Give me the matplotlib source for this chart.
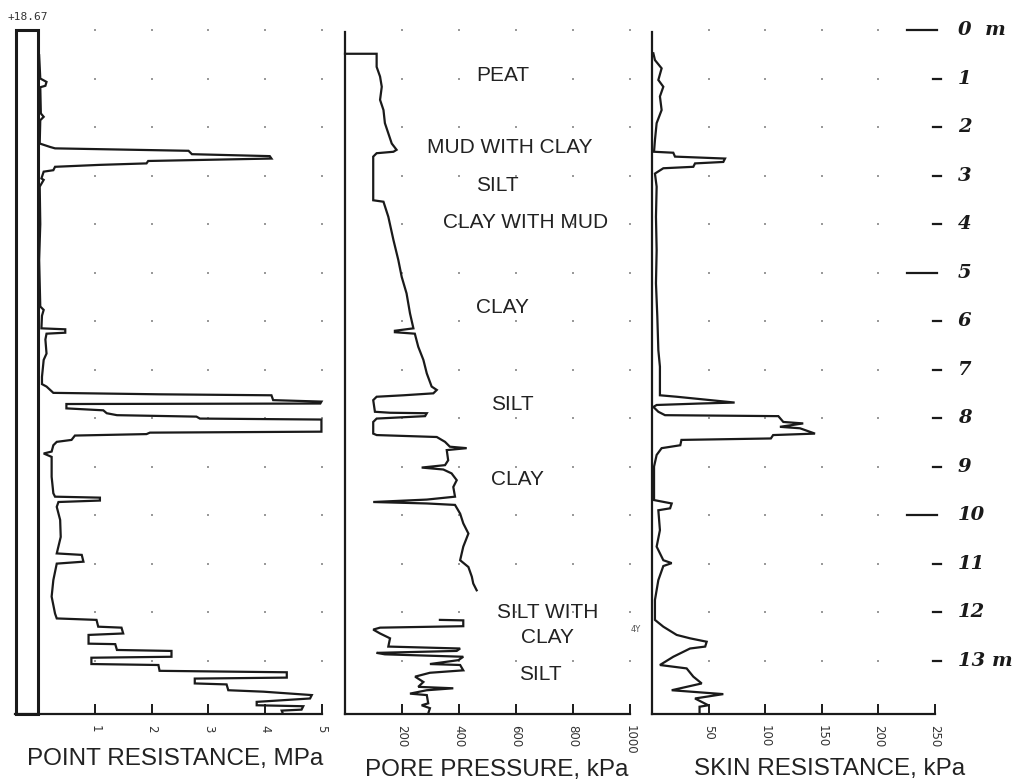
import matplotlib
matplotlib.use("Agg")
import matplotlib.pyplot as plt
from matplotlib.patches import Rectangle

# ---------------- data (depth in m, value) ----------------
qc_depth = [0.52, 1.00, 1.07, 1.15, 1.18, 1.72, 1.79, 1.86, 2.34, 2.41, 2.44, 2.49, 2.56, 2.60, 2.65,
            2.70, 2.75, 2.78, 2.82, 2.89, 2.92, 3.06, 3.09, 3.23, 4.00, 4.74, 5.70, 5.77, 5.89,
            6.15, 6.17, 6.24, 6.26, 6.38, 6.67, 6.80, 7.15, 7.30, 7.35, 7.48, 7.51, 7.53, 7.63,
            7.66, 7.70, 7.71, 7.80, 7.84, 7.90, 7.94, 7.97, 8.01, 8.03, 8.28, 8.30, 8.33, 8.36,
            8.45, 8.49, 8.56, 8.69, 8.73, 8.80, 9.21, 9.55, 9.62, 9.64, 9.70, 9.73, 9.83, 10.10,
            10.45, 10.79, 10.82, 10.96, 11.00, 11.34, 11.68, 12.03, 12.13, 12.16, 12.30, 12.32,
            12.44, 12.47, 12.65, 12.66, 12.78, 12.80, 12.92, 12.94, 13.07, 13.09, 13.21, 13.24,
            13.35, 13.37, 13.47, 13.49, 13.61, 13.64, 13.71, 13.78, 13.85, 13.92, 13.94, 14.01,
            14.03, 14.09]
qc_mpa = [0.02, 0.04, 0.15, 0.13, 0.04, 0.05, 0.10, 0.04, 0.03, 0.21, 0.30, 2.65, 2.71, 4.08, 4.11,
          1.94, 1.91, 1.09, 0.30, 0.27, 0.10, 0.06, 0.10, 0.03, 0.04, 0.02, 0.04, 0.10, 0.07,
          0.06, 0.48, 0.48, 0.15, 0.13, 0.15, 0.10, 0.07, 0.07, 0.15, 0.27, 2.15, 4.11, 4.14,
          4.99, 4.97, 0.50, 0.50, 1.15, 1.21, 1.39, 2.79, 2.85, 4.99, 4.99, 1.97, 1.91, 0.65,
          0.59, 0.33, 0.27, 0.24, 0.10, 0.24, 0.24, 0.27, 0.30, 1.09, 1.09, 0.36, 0.33, 0.39,
          0.40, 0.33, 0.77, 0.80, 0.33, 0.27, 0.24, 0.30, 0.33, 1.03, 1.06, 1.47,
          1.50, 0.89, 0.89, 1.36, 1.39, 2.35, 2.35, 0.94, 0.94, 2.12, 2.14, 4.38,
          4.38, 2.76, 2.76, 3.32, 3.35, 3.97, 4.82, 4.79, 3.85, 3.85, 4.67, 4.64,
          4.29, 4.31]

u_depth_a = [0.49, 0.49, 0.76, 0.96, 1.17, 1.44, 1.65, 1.92, 2.13, 2.34, 2.47, 2.51, 2.54, 2.61,
             3.51, 3.54, 3.85, 4.33, 4.74, 5.09, 5.43, 5.84, 6.15, 6.20, 6.23, 6.26, 6.53, 6.80,
             7.08, 7.35, 7.42, 7.49, 7.53, 7.56, 7.63, 7.87, 7.89, 7.90, 7.96, 8.01, 8.08, 8.32,
             8.35, 8.39, 8.49, 8.59, 8.62, 8.66, 8.87, 8.97, 9.02, 9.06, 9.14, 9.28, 9.42, 9.62,
             9.68, 9.73, 9.76, 9.79, 9.97, 10.17, 10.38, 10.65, 10.93, 11.07, 11.27, 11.41, 11.55]
u_kpa_a = [0, 111, 111, 123, 129, 123, 135, 140, 152, 164, 181, 170, 111, 99,
           99, 135, 152, 170, 187, 199, 216, 228, 240, 175, 175, 245, 257, 275,
           287, 304, 322, 310, 205, 111, 99, 105, 158, 287, 281, 111, 99, 99,
           111, 322, 351, 368, 427, 357, 362, 351, 269, 345, 374, 392, 380, 386,
           287, 99, 287, 386, 404, 415, 433, 415, 404, 433, 445, 450, 462]
u_depth_b = [12.16, 12.17, 12.29, 12.32, 12.36, 12.44, 12.54, 12.71, 12.75, 12.80, 12.84, 12.87,
             12.92, 12.99, 13.07, 13.09, 13.20, 13.25, 13.33, 13.44, 13.54, 13.57, 13.61, 13.68,
             13.71, 13.88, 13.92, 13.98, 14.09]
u_kpa_b = [333, 415, 415, 123, 99, 123, 158, 152, 404, 392, 111, 140,
           415, 398, 298, 404, 415, 298, 246, 275, 257, 380, 287, 228,
           287, 292, 269, 298, 292]

fs_depth = [0.48, 0.62, 0.79, 1.03, 1.17, 1.37, 1.65, 1.92, 2.27, 2.51, 2.53, 2.61, 2.65, 2.72,
            2.75, 2.82, 2.85, 2.96, 3.23, 3.85, 4.54, 5.22, 5.91, 6.60, 6.94, 7.35, 7.53, 7.56,
            7.68, 7.70, 7.73, 7.77, 7.87, 7.94, 7.96, 8.08, 8.11, 8.18, 8.21, 8.32, 8.35, 8.42,
            8.45, 8.56, 8.62, 8.76, 9.00, 9.69, 9.76, 9.86, 9.90, 10.31, 10.65, 10.93, 10.99,
            11.05, 11.34, 11.75, 12.16, 12.30, 12.47, 12.54, 12.61, 12.71, 12.75, 12.92, 13.09,
            13.16, 13.33, 13.47, 13.61, 13.69, 13.78, 13.92, 13.95, 14.09]
fs_kpa = [1.2, 2.6, 8.5, 5.6, 10, 7, 8.5, 4.1, 2.6, 1.8, 18.8, 20.3, 64.5, 63,
          38, 36.5, 10, 2.6, 4.1, 3.5, 4.1, 3.5, 4.7, 5.6, 7, 7, 7, 21.8,
          73, 42, 4.1, 1.2, 5.6, 11.5, 111.6, 116, 133.6, 113, 130.7, 144, 107, 105,
          26, 25, 8.5, 4.1, 1.8, 1.8, 17.4, 16, 5.6, 7, 4.1, 10, 17.4,
          10, 5.6, 2.6, 2.6, 10, 21.8, 33.6, 48.3, 47, 33.6, 18.8, 7,
          30.6, 36.5, 43.9, 17.4, 63, 38, 49.7, 42, 42]

qc_ticks = [1, 2, 3, 4, 5]
u_ticks = [200, 400, 600, 800, 1000]
fs_ticks = [50, 100, 150, 200, 250]
fs_dot_cols = [50, 100, 150, 200]
depth_rows = list(range(0, 14))
depth_labels = ["0  m", "1", "2", "3", "4", "5", "6", "7", "8", "9", "10", "11", "12", "13 m"]

layer_names = ["PEAT", "MUD WITH CLAY", "SILT", "CLAY WITH MUD", "CLAY", "SILT", "CLAY",
               "SILT WITH", "CLAY", "SILT"]
layer_depth = [0.93, 2.43, 3.20, 3.96, 5.73, 7.73, 9.26, 12.0, 12.52, 13.28]
layer_kpa = [554, 579, 533, 632, 554, 586, 604, 712, 712, 684]

# ---------------- figure ----------------
W, H = 1014, 783
fig = plt.figure(figsize=(W / 100, H / 100), dpi=100)
fig.patch.set_facecolor("white")

def rect(x0, x1):
    bottom = 1 - 714 / H
    return [x0 / W, bottom, (x1 - x0) / W, 684 / H]

ax1 = fig.add_axes(rect(15, 322))
ax2 = fig.add_axes(rect(345, 630))
ax3 = fig.add_axes(rect(652, 935))

DMAX = 14.1
ink = "#1a1a1a"
for ax in (ax1, ax2, ax3):
    ax.set_ylim(DMAX, 0)
    ax.set_yticks([])
    for s in ("top", "right"):
        ax.spines[s].set_visible(False)
    ax.spines["bottom"].set_linewidth(1.6)
    ax.spines["left"].set_linewidth(1.6)
    ax.spines["bottom"].set_color(ink)
    ax.spines["left"].set_color(ink)
    ax.tick_params(axis="x", direction="in", length=7, width=1.4, color=ink,
                   labelsize=8.5, labelrotation=-90, pad=8, labelcolor="#333")
    ax.set_facecolor("none")

ax1.spines["left"].set_visible(False)
ax1.set_xlim(-0.405, 5.0)
ax2.set_xlim(0, 1000)
ax3.set_xlim(0, 250)
ax1.set_xticks(qc_ticks)
ax2.set_xticks(u_ticks)
ax3.set_xticks(fs_ticks)
ax2.spines["left"].set_bounds(0.04, DMAX)
ax3.spines["left"].set_bounds(0.04, DMAX)

# casing rectangle in panel 1
ax1.add_patch(Rectangle((-0.39, 0.0), 0.39, DMAX, fill=False, lw=2.2, ec=ink, clip_on=False))

# grid dots
dot_kw = dict(ls="none", marker="s", ms=1.8, color="#9a9a9a", mew=0, clip_on=False)
for c in qc_ticks:
    ax1.plot([c] * len(depth_rows), depth_rows, **dot_kw)
for c in u_ticks:
    ax2.plot([c] * len(depth_rows), depth_rows, **dot_kw)
for c in fs_dot_cols:
    ax3.plot([c] * len(depth_rows), depth_rows, **dot_kw)

# curves
line_kw = dict(color=ink, lw=1.6, clip_on=False, solid_joinstyle="miter")
ax1.plot(qc_mpa, qc_depth, **line_kw)
ax2.plot(u_kpa_a, u_depth_a, **line_kw)
ax2.plot(u_kpa_b, u_depth_b, **line_kw)
ax3.plot(fs_kpa, fs_depth, **line_kw)

# layer names
for name, d, k in zip(layer_names, layer_depth, layer_kpa):
    ax2.text(k, d, name, ha="center", va="center", fontsize=15,
             family="Liberation Sans", color="#222", clip_on=False)

# hand-written depth scale at the right
for d, lab in zip(depth_rows, depth_labels):
    if d % 5 == 0:
        ax3.plot([225, 252], [d, d], color=ink, lw=1.6, clip_on=False)
    else:
        ax3.plot([248, 255], [d, d], color=ink, lw=1.6, clip_on=False)
    ax3.text(270, d, lab, ha="left", va="center", fontsize=14, fontstyle="italic",
             fontweight="bold", family="DejaVu Serif", color=ink, clip_on=False)

# misc text
fig.text(8 / W, 1 - 17 / H, "+18.67", fontsize=8, family="DejaVu Sans Mono",
         color="#333", ha="left", va="center")
fig.text(636 / W, 1 - 629 / H, "4Y", fontsize=6, color="#555", ha="center", va="center")

fig.text(175 / W, 1 - 759 / H, "POINT RESISTANCE, MPa", fontsize=17.5,
         family="Liberation Sans", color="#222", ha="center", va="center")
fig.text(497 / W, 1 - 770 / H, "PORE PRESSURE, kPa", fontsize=17.5,
         family="Liberation Sans", color="#222", ha="center", va="center")
fig.text(830 / W, 1 - 769 / H, "SKIN RESISTANCE, kPa", fontsize=17.5,
         family="Liberation Sans", color="#222", ha="center", va="center")

fig.savefig("out.png", dpi=100, facecolor="white")
